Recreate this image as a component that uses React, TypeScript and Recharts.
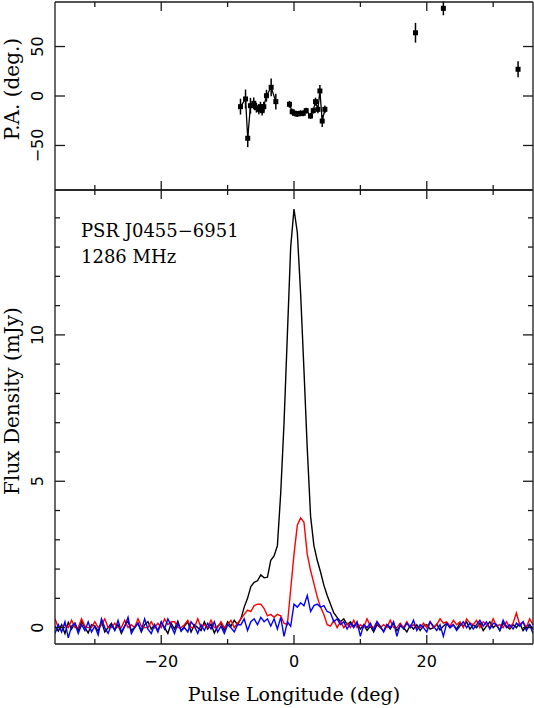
import React from 'react';
import { ComposedChart, LineChart, Line, Scatter, XAxis, YAxis, ErrorBar } from 'recharts';

// Profile bins: longitude = LON_START + index * LON_STEP
const LON_START = -36;
const LON_STEP = 0.5;

// Total intensity (black), mJy
const STOKES_I = [
  0.05, -0.12, 0.1, -0.2, 0.18, -0.05, 0.15, -0.1, 0.22, 0.0,
  -0.18, 0.1, 0.05, -0.12, 0.2, -0.15, 0.0, 0.15, -0.08, 0.1,
  -0.2, 0.05, 0.22, -0.1, 0.0, 0.15, -0.15, 0.1, 0.2, -0.05,
  0.1, -0.1, 0.18, 0.0, -0.2, 0.15, -0.05, 0.22, -0.12, 0.05,
  0.2, -0.15, 0.1, 0.0, -0.1, 0.2, -0.05, 0.12, -0.18, 0.05,
  0.15, -0.1, 0.2, 0.05, 0.25, 0.1,
  0.3, 0.7, 1.0, 1.4, 1.55, 1.6, 1.8, 1.7, 1.72, 2.3, 2.45, 2.8, 4.6, 7.0, 10.0, 13.0,
  14.3, 13.5, 11.4, 8.8, 6.1, 3.8, 2.8, 2.3, 1.9, 1.45, 1.1, 0.8, 0.5, 0.35, 0.2, 0.3,
  0.1, 0.2,
  0.05, 0.15, -0.05, 0.1, -0.1, 0.05, -0.15, 0.1, 0.0, -0.12,
  0.1, -0.05, 0.15, -0.1, 0.05, 0.0, -0.15, 0.08, -0.05, 0.1,
  -0.1, 0.05, 0.1, -0.05, 0.0, 0.12, -0.08, 0.05, 0.15, 0.0,
  0.1, -0.05, 0.15, 0.05, 0.2, -0.05, 0.1, 0.0, 0.15, -0.1,
  0.05, 0.2, 0.0, 0.1, -0.1, 0.15, 0.05, -0.05, 0.1, 0.0,
  0.15, -0.1, 0.05, 0.1, -0.05,
];

// Linear polarisation (red), mJy
const STOKES_L = [
  0.3, 0.0, 0.0, 0.1, 0.0, 0.25, 0.0, 0.0, 0.3, 0.05,
  0.0, 0.0, 0.2, 0.0, 0.1, 0.3, 0.0, 0.0, 0.15, 0.0,
  0.0, 0.25, 0.0, 0.1, 0.0, 0.3, 0.05, 0.0, 0.0, 0.2,
  0.0, 0.15, 0.0, 0.3, 0.1, 0.2, 0.2, 0.0, 0.0, 0.1,
  0.25, 0.0, 0.0, 0.3, 0.0, 0.1, 0.0, 0.25, 0.0, 0.0,
  0.2, 0.0, 0.1, 0.25, 0.0, 0.15,
  0.3, 0.45, 0.6, 0.55, 0.75, 0.8, 0.8, 0.65, 0.4, 0.45, 0.35, 0.45, 0.4, 0.15, 0.1, 1.3,
  2.5, 3.5, 3.75, 3.6, 2.5, 1.95, 1.5, 1.05, 0.7, 0.45, 0.1, 0.05, 0.25, 0.0, 0.2, 0.0,
  0.15, 0.0,
  0.25, 0.0, 0.1, 0.0, 0.3, 0.05, 0.0, 0.2, 0.0, 0.1,
  0.0, 0.25, 0.0, 0.0, 0.15, 0.0, 0.2, 0.0, 0.1, 0.0,
  0.0, 0.15, 0.0, 0.2, 0.0, 0.1, 0.3, 0.15, 0.2, 0.05,
  0.25, 0.1, 0.2, 0.0, 0.3, 0.15, 0.1, 0.25, 0.0, 0.2,
  0.1, 0.0, 0.3, 0.05, 0.1, 0.0, 0.2, 0.0, 0.15, 0.5,
  0.1, 0.2, 0.0, 0.3, 0.1,
];

// Circular polarisation (blue), mJy
const STOKES_V = [
  -0.2, 0.1, -0.15, 0.2, -0.35, 0.05, 0.15, -0.2, 0.1, -0.1,
  0.2, -0.15, 0.05, -0.25, 0.3, 0.0, -0.2, 0.1, -0.1, 0.25,
  -0.15, 0.05, 0.35, -0.2, 0.0, 0.15, -0.1, 0.3, -0.05, -0.2,
  0.1, -0.15, 0.2, -0.05, 0.3, 0.05, -0.2, 0.15, -0.1, 0.0,
  -0.15, 0.2, 0.05, -0.2, 0.1, -0.1, 0.15, -0.05, 0.2, -0.15,
  0.05, -0.2, 0.1, 0.0, -0.15, 0.1,
  0.1, 0.3, -0.1, 0.2, 0.3, 0.1, 0.35, 0.2, 0.3, 0.05, 0.3, -0.05, 0.35, -0.3, 0.2, 0.05,
  0.8, 0.7, 0.85, 0.75, 1.1, 0.55, 0.75, 0.8, 0.7, 0.75, 0.55, 0.5, 0.2, 0.3, 0.1, 0.2,
  -0.05, 0.15,
  0.0, 0.2, -0.3, 0.1, 0.0, 0.15, -0.1, 0.2, 0.05, -0.15,
  0.1, 0.0, 0.2, -0.3, 0.1, -0.05, 0.15, 0.0, 0.25, -0.1,
  0.1, 0.0, -0.15, 0.2, 0.05, -0.1, 0.1, -0.3, 0.15, 0.0,
  0.1, -0.1, 0.05, 0.2, 0.0, 0.15, -0.05, 0.1, 0.25, 0.05,
  0.2, -0.05, 0.15, 0.1, -0.1, 0.25, 0.0, 0.1, -0.05, 0.15,
  0.05, 0.2, -0.1, 0.1, -0.2,
];

// Position angle, first group (leading component)
const PA_A_LON = [-8.06, -7.3, -6.97, -6.56, -6.06, -5.66, -5.3, -5.05, -4.8, -4.55, -4.15, -3.44, -2.74];
const PA_A_VAL = [-10.8, -3, -42.7, -9.8, -7.4, -11.8, -13.5, -10.8, -14.8, -10.8, 0.3, 8.8, -5.7];
const PA_A_ERR = [8, 9.5, 9, 8, 6, 5, 5, 5, 5, 5, 6, 9, 8];

// Position angle, second group (main component)
const PA_B_LON = [-0.68, -0.27, 0.08, 0.48, 0.98, 1.39, 1.84, 2.49, 2.9, 3.24, 3.6, 3.9, 4.25, 4.65];
const PA_B_VAL = [-8.4, -15.9, -17.5, -18.2, -17.5, -17.5, -14.8, -20.2, -14.8, -5.7, -13.5, 5.1, -25.3, -13.5];
const PA_B_ERR = [3.5, 3, 3, 3, 3, 3, 3, 3, 3, 4, 4, 6, 6, 4];

// Isolated position-angle points
const PA_C_LON = [18.3, 22.5, 33.75];
const PA_C_VAL = [63.9, 88.6, 27];
const PA_C_ERR = [10, 7, 8];

const X_TICKS = [-30, -20, -10, 0, 10, 20, 30];
const X_MAJOR = [-20, 0, 20];
const FLUX_TICKS = [0, 1, 2, 3, 4, 5, 6, 7, 8, 9, 10, 11, 12, 13, 14];
const FLUX_MAJOR = [0, 5, 10];
const PA_TICKS = [-50, 0, 50];
const PA_MAJOR = [-50, 0, 50];

const profileData = STOKES_I.map((v, i) => ({
  lon: LON_START + i * LON_STEP,
  I: v,
  L: STOKES_L[i],
  V: STOKES_V[i],
}));

const mkPa = (lons: number[], vals: number[], errs: number[]) =>
  lons.map((lon, i) => ({ lon, pa: vals[i], err: errs[i] }));
const paA = mkPa(PA_A_LON, PA_A_VAL, PA_A_ERR);
const paB = mkPa(PA_B_LON, PA_B_VAL, PA_B_ERR);
const paC = mkPa(PA_C_LON, PA_C_VAL, PA_C_ERR);

const AXIS = '#1a1a1a';
const SANS = 'DejaVu Sans';
const SERIF = 'DejaVu Serif';
const fmt = (v: number) => (v < 0 ? '\u2212' + Math.abs(v) : String(v));

const xTick = (side: 'top' | 'bottom', labels: boolean) => (props: any) => {
  const { x, y, payload } = props;
  const major = X_MAJOR.includes(payload.value);
  const len = major ? 9 : 5;
  const dir = side === 'bottom' ? -1 : 1;
  return (
    <g>
      <line x1={x} x2={x} y1={y} y2={y + dir * len} stroke={AXIS} strokeWidth={1.3} />
      {labels && major && (
        <text x={x} y={y + 23} textAnchor="middle" fontFamily={SANS} fontSize={16} fill="#000">
          {fmt(payload.value)}
        </text>
      )}
    </g>
  );
};

const yTick = (side: 'left' | 'right', majors: number[], labels: boolean) => (props: any) => {
  const { x, y, payload } = props;
  const major = majors.includes(payload.value);
  const len = major ? 10 : 5;
  const dir = side === 'left' ? 1 : -1;
  return (
    <g>
      <line x1={x} x2={x + dir * len} y1={y} y2={y} stroke={AXIS} strokeWidth={1.3} />
      {labels && major && (
        <text
          x={x - 12}
          y={y}
          transform={`rotate(-90 ${x - 12} ${y})`}
          textAnchor="middle"
          fontFamily={SANS}
          fontSize={16}
          fill="#000"
        >
          {fmt(payload.value)}
        </text>
      )}
    </g>
  );
};

const square = (props: any) => {
  const { cx, cy } = props;
  if (cx == null || cy == null) return <g />;
  return <rect x={cx - 2.5} y={cy - 2.5} width={5} height={5} fill="#000" />;
};

const axisLine = { stroke: AXIS, strokeWidth: 1.3 };

export default function App() {
  return (
    <div style={{ position: 'absolute', left: 0, top: 0, width: 534, height: 708, background: '#fff' }}>
      <div style={{ position: 'absolute', left: 0, top: 0 }}>
        <LineChart
          width={534}
          height={708}
          data={profileData}
          margin={{ top: 189, right: 0, bottom: 63, left: 54 }}
        >
          <XAxis
            dataKey="lon"
            type="number"
            domain={[-36, 36]}
            allowDataOverflow
            ticks={X_TICKS}
            interval={0}
            height={1}
            tickSize={0}
            tickMargin={0}
            tickLine={false}
            axisLine={axisLine}
            tick={xTick('bottom', true)}
            label={() => (
              <text x={294} y={701} textAnchor="middle" fontFamily={SERIF} fontSize={19} fill="#000">
                Pulse Longitude (deg)
              </text>
            )}
          />
          <XAxis
            xAxisId="top"
            orientation="top"
            dataKey="lon"
            type="number"
            domain={[-36, 36]}
            allowDataOverflow
            ticks={X_TICKS}
            interval={0}
            height={1}
            tickSize={0}
            tickMargin={0}
            tickLine={false}
            axisLine={axisLine}
            tick={xTick('top', false)}
          />
          <YAxis
            type="number"
            domain={[-0.56, 14.95]}
            allowDataOverflow
            ticks={FLUX_TICKS}
            interval={0}
            width={1}
            tickSize={0}
            tickMargin={0}
            tickLine={false}
            axisLine={axisLine}
            tick={yTick('left', FLUX_MAJOR, true)}
            label={() => (
              <text
                x={19}
                y={401}
                transform="rotate(-90 19 401)"
                textAnchor="middle"
                fontFamily={SERIF}
                fontSize={20}
                fill="#000"
              >
                Flux Density (mJy)
              </text>
            )}
          />
          <YAxis
            yAxisId="right"
            orientation="right"
            type="number"
            domain={[-0.56, 14.95]}
            allowDataOverflow
            ticks={FLUX_TICKS}
            interval={0}
            width={1}
            tickSize={0}
            tickMargin={0}
            tickLine={false}
            axisLine={axisLine}
            tick={yTick('right', FLUX_MAJOR, false)}
            label={() => (
              <g>
                <text x={81} y={237} fontFamily={SERIF} fontSize={18} fill="#000">
                  PSR J0455{'\u2212'}6951
                </text>
                <text x={81} y={263} fontFamily={SERIF} fontSize={18} fill="#000">
                  1286 MHz
                </text>
              </g>
            )}
          />
          <Line dataKey="I" stroke="#000" strokeWidth={1.4} dot={false} isAnimationActive={false} />
          <Line dataKey="L" stroke="#ff0000" strokeWidth={1.4} dot={false} isAnimationActive={false} />
          <Line dataKey="V" stroke="#0000ff" strokeWidth={1.4} dot={false} isAnimationActive={false} />
        </LineChart>
      </div>
      <div style={{ position: 'absolute', left: 0, top: 0 }}>
        <ComposedChart width={534} height={192} margin={{ top: 1, right: 0, bottom: 1, left: 54 }}>
          <XAxis
            dataKey="lon"
            type="number"
            domain={[-36, 36]}
            allowDataOverflow
            ticks={X_TICKS}
            interval={0}
            height={1}
            tickSize={0}
            tickMargin={0}
            tickLine={false}
            axisLine={axisLine}
            tick={xTick('bottom', false)}
          />
          <XAxis
            xAxisId="top"
            orientation="top"
            dataKey="lon"
            type="number"
            domain={[-36, 36]}
            allowDataOverflow
            ticks={X_TICKS}
            interval={0}
            height={1}
            tickSize={0}
            tickMargin={0}
            tickLine={false}
            axisLine={axisLine}
            tick={xTick('top', false)}
          />
          <YAxis
            dataKey="pa"
            type="number"
            domain={[-95, 95]}
            allowDataOverflow
            ticks={PA_TICKS}
            interval={0}
            width={1}
            tickSize={0}
            tickMargin={0}
            tickLine={false}
            axisLine={axisLine}
            tick={yTick('left', PA_MAJOR, true)}
            label={() => (
              <text
                x={19}
                y={89}
                transform="rotate(-90 19 89)"
                textAnchor="middle"
                fontFamily={SERIF}
                fontSize={20}
                fill="#000"
              >
                P.A. (deg.)
              </text>
            )}
          />
          <YAxis
            yAxisId="right"
            orientation="right"
            type="number"
            domain={[-95, 95]}
            allowDataOverflow
            ticks={PA_TICKS}
            interval={0}
            width={1}
            tickSize={0}
            tickMargin={0}
            tickLine={false}
            axisLine={axisLine}
            tick={yTick('right', PA_MAJOR, false)}
          />
          <Scatter data={paA} dataKey="pa" shape={square} line={{ stroke: '#000', strokeWidth: 1.3 }} isAnimationActive={false}>
            <ErrorBar dataKey="err" direction="y" width={0} stroke="#000" strokeWidth={1.5} isAnimationActive={false} />
          </Scatter>
          <Scatter data={paB} dataKey="pa" shape={square} line={{ stroke: '#000', strokeWidth: 1.3 }} isAnimationActive={false}>
            <ErrorBar dataKey="err" direction="y" width={0} stroke="#000" strokeWidth={1.5} isAnimationActive={false} />
          </Scatter>
          <Scatter data={paC} dataKey="pa" shape={square} isAnimationActive={false}>
            <ErrorBar dataKey="err" direction="y" width={0} stroke="#000" strokeWidth={1.5} isAnimationActive={false} />
          </Scatter>
        </ComposedChart>
      </div>
    </div>
  );
}
